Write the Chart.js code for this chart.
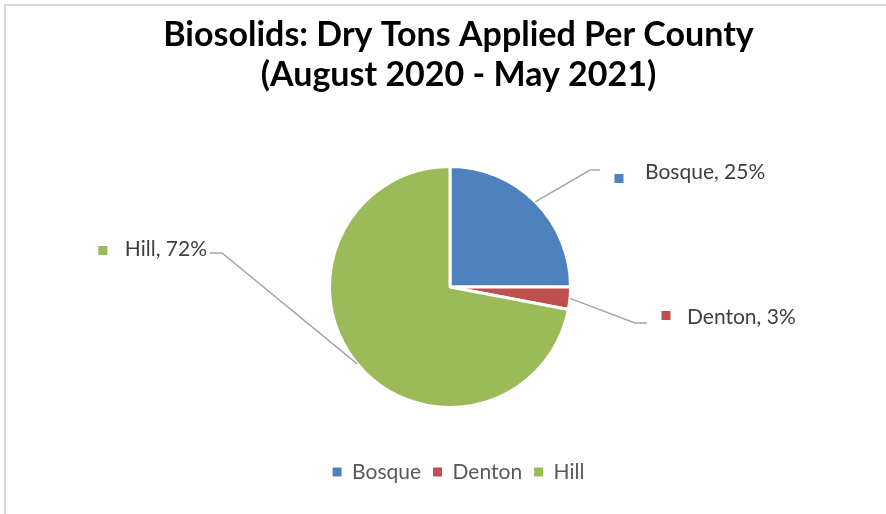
<!DOCTYPE html>
<html>
<head>
<meta charset="utf-8">
<script src="https://cdn.jsdelivr.net/npm/chart.js@4"></script>
<style>
html, body { margin: 0; padding: 0; background: #fff; }
</style>
</head>
<body>
<canvas id="pieChart" width="886" height="514"></canvas>
<script>
// Data
const counties = ['Bosque', 'Denton', 'Hill'];
const dryTonsShare = [25, 3, 72];
const titleLines = ['Biosolids: Dry Tons Applied Per County', '(August 2020 - May 2021)'];

const sliceColors = ['#4F81BD', '#C0504D', '#9BBB59'];

// Light grey outline of the chart object (only top/left edges are in view)
const chartFrame = {
    id: 'chartFrame',
    beforeDraw(chart) {
        const ctx = chart.ctx;
        ctx.save();
        ctx.strokeStyle = '#D9D9D9';
        ctx.lineWidth = 2;
        ctx.strokeRect(5, 5, chart.width + 20, chart.height + 20);
        ctx.restore();
    }
};

// Excel puts the pie a bit off the title centre, so nudge the plot box
const plotBox = {
    id: 'plotBox',
    afterLayout(chart, args, opts) {
        const a = chart.chartArea;
        a.left += opts.shiftX;
        a.right += opts.shiftX;
        a.bottom = a.top + opts.height;
        a.width = a.right - a.left;
        a.height = a.bottom - a.top;
    }
};

// Data labels with leader lines; offsets are measured from the pie centre
const leaderLabels = {
    id: 'leaderLabels',
    afterDraw(chart, args, opts) {
        const ctx = chart.ctx;
        const meta = chart.getDatasetMeta(0);
        const values = chart.data.datasets[0].data;
        const total = values.reduce((s, v) => s + v, 0);
        ctx.save();
        meta.data.forEach((arc, i) => {
            const spot = opts.spots[i];
            const p = arc.getProps(['x', 'y', 'startAngle', 'endAngle', 'outerRadius'], true);
            const mid = (p.startAngle + p.endAngle) / 2;
            const sx = p.x + Math.cos(mid) * p.outerRadius;
            const sy = p.y + Math.sin(mid) * p.outerRadius;

            ctx.strokeStyle = '#A6A6A6';
            ctx.lineWidth = 1.5;
            ctx.beginPath();
            ctx.moveTo(sx, sy);
            ctx.lineTo(p.x + spot.elbow[0], p.y + spot.elbow[1]);
            ctx.lineTo(p.x + spot.end[0], p.y + spot.end[1]);
            ctx.stroke();

            const text = chart.data.labels[i] + ', ' + Math.round(values[i] / total * 100) + '%';
            ctx.font = opts.font;
            ctx.fillStyle = '#404040';
            ctx.textBaseline = 'alphabetic';
            ctx.textAlign = 'left';
            const w = ctx.measureText(text).width;
            let tx = p.x + spot.text[0];
            if (spot.align === 'right') tx -= w;
            ctx.fillText(text, tx, p.y + spot.text[1]);

            ctx.fillStyle = sliceColors[i];
            const kx = tx - spot.keyGap;
            const ky = p.y + spot.keyY;
            ctx.fillRect(kx - 4.5, ky - 4.5, 9, 9);
        });
        ctx.restore();
    }
};

new Chart(document.getElementById('pieChart'), {
    type: 'pie',
    data: {
        labels: counties,
        datasets: [{
            data: dryTonsShare,
            backgroundColor: sliceColors,
            borderColor: '#FFFFFF',
            borderWidth: 3
        }]
    },
    options: {
        responsive: false,
        animation: false,
        devicePixelRatio: 1,
        rotation: 0,
        layout: {
            padding: { top: 0, left: 31, right: 0, bottom: 21.5 }
        },
        plugins: {
            title: {
                display: true,
                text: titleLines,
                color: '#000000',
                font: { family: 'Lato', size: 34, weight: 'bold', lineHeight: 40 / 34 },
                padding: { top: 15, bottom: 70 }
            },
            legend: {
                position: 'bottom',
                labels: {
                    boxWidth: 9,
                    boxHeight: 9,
                    padding: 12,
                    color: '#595959',
                    font: { family: 'Lato', size: 21 },
                    // plain squares: drop the white slice border from the keys
                    generateLabels(chart) {
                        const items = Chart.overrides.pie.plugins.legend.labels.generateLabels(chart);
                        return items.map(it => Object.assign(it, { lineWidth: 0, strokeStyle: it.fillStyle }));
                    }
                }
            },
            tooltip: { enabled: false },
            plotBox: { shiftX: -8.5, height: 244 },
            leaderLabels: {
                font: '21px Lato',
                spots: [
                    { elbow: [140, -117], end: [150, -117], text: [195, -108], align: 'left', keyGap: 26, keyY: -108.5 },
                    { elbow: [185, 36], end: [197, 36], text: [237, 37], align: 'left', keyGap: 21, keyY: 28.5 },
                    { elbow: [-228, -34], end: [-240, -34], text: [-243, -31], align: 'right', keyGap: 22, keyY: -36.5 }
                ]
            }
        }
    },
    plugins: [chartFrame, plotBox, leaderLabels]
});
</script>
</body>
</html>
